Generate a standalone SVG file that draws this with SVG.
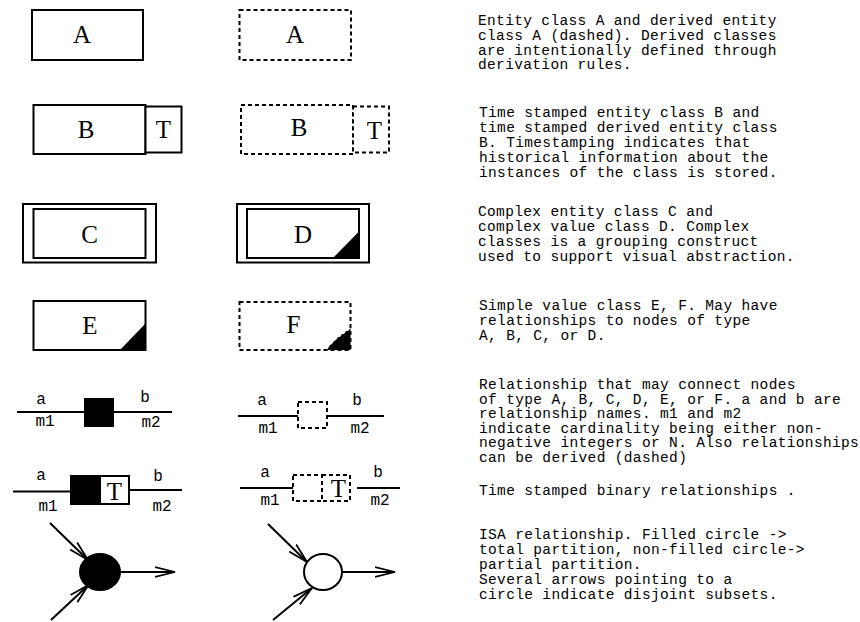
<svg xmlns="http://www.w3.org/2000/svg" width="860" height="622" viewBox="0 0 860 622">
<style>
.box{fill:#fff;stroke:#000;stroke-width:2}
.dbox{fill:#fff;stroke:#000;stroke-width:2;stroke-dasharray:4 3}
.lbl{font-family:"Liberation Serif","Times New Roman",serif;font-size:25px;text-anchor:middle;fill:#000}
.rl{font-family:"Liberation Mono","Courier New",monospace;font-size:16px;text-anchor:middle;fill:#000}
.desc{font-family:"Liberation Mono","Courier New",monospace;font-size:14.5px;letter-spacing:0.35px;fill:#000}
.ln{stroke:#000;stroke-width:2;fill:none}
.ar{stroke:#000;stroke-width:2;fill:none;marker-end:url(#ah)}
</style>
<defs>
<marker id="ah" markerUnits="userSpaceOnUse" markerWidth="22" markerHeight="12" refX="20" refY="5" orient="auto" viewBox="0 0 22 10">
<path d="M0,0 L20,5 L0,10" fill="none" stroke="#000" stroke-width="1.8"/>
</marker>
</defs>
<rect width="860" height="622" fill="#fff"/>

<g id="entityA">
<rect class="box" x="32" y="10" width="111" height="50"/>
<text class="lbl" x="82" y="43">A</text>
</g>
<g id="derivedA">
<rect class="dbox" x="239.5" y="10" width="111.5" height="50"/>
<text class="lbl" x="295" y="43">A</text>
</g>

<g id="entityB">
<rect class="box" x="33.5" y="105" width="112" height="49"/>
<rect class="box" x="145.5" y="106.5" width="36" height="46"/>
<text class="lbl" x="86" y="138">B</text>
<text class="lbl" x="163.5" y="138">T</text>
</g>
<g id="derivedB">
<rect class="dbox" x="241" y="105" width="112" height="49"/>
<rect class="dbox" x="353" y="106.5" width="36" height="46"/>
<text class="lbl" x="299" y="136">B</text>
<text class="lbl" x="374.5" y="139">T</text>
</g>

<g id="complexC">
<rect class="box" x="23" y="204" width="133" height="58.5"/>
<rect class="box" x="33.5" y="209" width="112" height="49"/>
<text class="lbl" x="89.5" y="243">C</text>
</g>
<g id="complexD">
<rect class="box" x="237" y="204" width="132" height="58.5"/>
<rect class="box" x="247" y="209" width="112" height="49"/>
<polygon points="333,258 359,258 359,231.5" fill="#000"/>
<text class="lbl" x="303" y="243">D</text>
</g>

<g id="valueE">
<rect class="box" x="33.5" y="301" width="112" height="49"/>
<polygon points="120,350 145.5,350 145.5,323.5" fill="#000"/>
<text class="lbl" x="90" y="334">E</text>
</g>
<g id="valueF">
<rect class="dbox" x="239.5" y="302" width="111" height="48"/>
<polygon points="327,350 350.5,350 350.5,328 348,331 346,331 344,334 342,334 340,337 338,337 336,340 334,341 332,344 330,345" fill="#000"/>
<text class="lbl" x="293.5" y="333">F</text>
</g>

<g id="rel1">
<rect x="84" y="398" width="30" height="29" fill="#000"/>
</g>
<g id="rel1d">
<rect class="dbox" x="298" y="402" width="29" height="26"/>
</g>
<g id="rel2">
<rect x="71" y="476" width="29" height="28" fill="#000" stroke="#000" stroke-width="2"/>
<rect class="box" x="100" y="476" width="29" height="28"/>
<text class="lbl" x="114.5" y="500">T</text>
</g>
<g id="rel2d">
<rect class="dbox" x="293" y="475" width="29" height="26"/>
<rect class="dbox" x="322" y="475" width="28" height="26"/>
<text class="lbl" x="338.5" y="497">T</text>
</g>

<g id="isaTotal">
<ellipse cx="100" cy="572" rx="20" ry="18" fill="#000" stroke="#000" stroke-width="2"/>
</g>
<g id="isaPartial">
<ellipse cx="323" cy="572" rx="19" ry="18" fill="#fff" stroke="#000" stroke-width="2"/>
</g>

<g id="connectors">
<line class="ln" x1="17" y1="412" x2="84" y2="412"/>
<line class="ln" x1="114" y1="412" x2="172" y2="412"/>
<line class="ln" x1="238" y1="416" x2="298" y2="416"/>
<line class="ln" x1="327" y1="416" x2="384" y2="416"/>
<line class="ln" x1="13" y1="491.5" x2="71" y2="491.5"/>
<line class="ln" x1="129" y1="490" x2="182" y2="490"/>
<line class="ln" x1="240" y1="488" x2="293" y2="488"/>
<line class="ln" x1="357" y1="488" x2="400" y2="488"/>
<line class="ar" x1="50" y1="523" x2="88" y2="560"/>
<line class="ar" x1="51" y1="620" x2="88.5" y2="585"/>
<line class="ar" x1="120" y1="572" x2="175" y2="572"/>
<line class="ar" x1="268" y1="524" x2="307" y2="562"/>
<line class="ar" x1="273" y1="620" x2="312" y2="588"/>
<line class="ar" x1="342" y1="572" x2="395" y2="572"/>
</g>

<g id="relLabels">
<text class="rl" x="41" y="404">a</text>
<text class="rl" x="45" y="426">m1</text>
<text class="rl" x="145" y="402">b</text>
<text class="rl" x="151" y="427">m2</text>
<text class="rl" x="262" y="405">a</text>
<text class="rl" x="268" y="433">m1</text>
<text class="rl" x="357" y="405">b</text>
<text class="rl" x="360" y="433">m2</text>
<text class="rl" x="41" y="480">a</text>
<text class="rl" x="48" y="511">m1</text>
<text class="rl" x="158" y="481">b</text>
<text class="rl" x="162" y="511">m2</text>
<text class="rl" x="265" y="477">a</text>
<text class="rl" x="270" y="505">m1</text>
<text class="rl" x="378" y="477">b</text>
<text class="rl" x="380" y="505">m2</text>
</g>

<g id="descriptions">
<text class="desc" x="478" y="25">Entity class A and derived entity</text>
<text class="desc" x="478" y="39.8">class A (dashed). Derived classes</text>
<text class="desc" x="478" y="54.6">are intentionally defined through</text>
<text class="desc" x="478" y="69.4">derivation rules.</text>

<text class="desc" x="479" y="117">Time stamped entity class B and</text>
<text class="desc" x="479" y="132">time stamped derived entity class</text>
<text class="desc" x="479" y="147">B. Timestamping indicates that</text>
<text class="desc" x="479" y="162">historical information about the</text>
<text class="desc" x="479" y="177">instances of the class is stored.</text>

<text class="desc" x="478" y="215.5">Complex entity class C and</text>
<text class="desc" x="478" y="230.5">complex value class D. Complex</text>
<text class="desc" x="478" y="245.5">classes is a grouping construct</text>
<text class="desc" x="478" y="260.5">used to support visual abstraction.</text>

<text class="desc" x="479" y="310">Simple value class E, F. May have</text>
<text class="desc" x="479" y="325">relationships to nodes of type</text>
<text class="desc" x="479" y="340">A, B, C, or D.</text>

<text class="desc" x="479" y="389">Relationship that may connect nodes</text>
<text class="desc" x="479" y="403.5">of type A, B, C, D, E, or F. a and b are</text>
<text class="desc" x="479" y="418">relationship names. m1 and m2</text>
<text class="desc" x="479" y="432.5">indicate cardinality being either non-</text>
<text class="desc" x="479" y="447">negative integers or N. Also relationships</text>
<text class="desc" x="479" y="461.5">can be derived (dashed)</text>

<text class="desc" x="479" y="495">Time stamped binary relationships .</text>

<text class="desc" x="479" y="539">ISA relationship. Filled circle -&gt;</text>
<text class="desc" x="479" y="554">total partition, non-filled circle-&gt;</text>
<text class="desc" x="479" y="569">partial partition.</text>
<text class="desc" x="479" y="583.5">Several arrows pointing to a</text>
<text class="desc" x="479" y="598.5">circle indicate disjoint subsets.</text>
</g>
</svg>
